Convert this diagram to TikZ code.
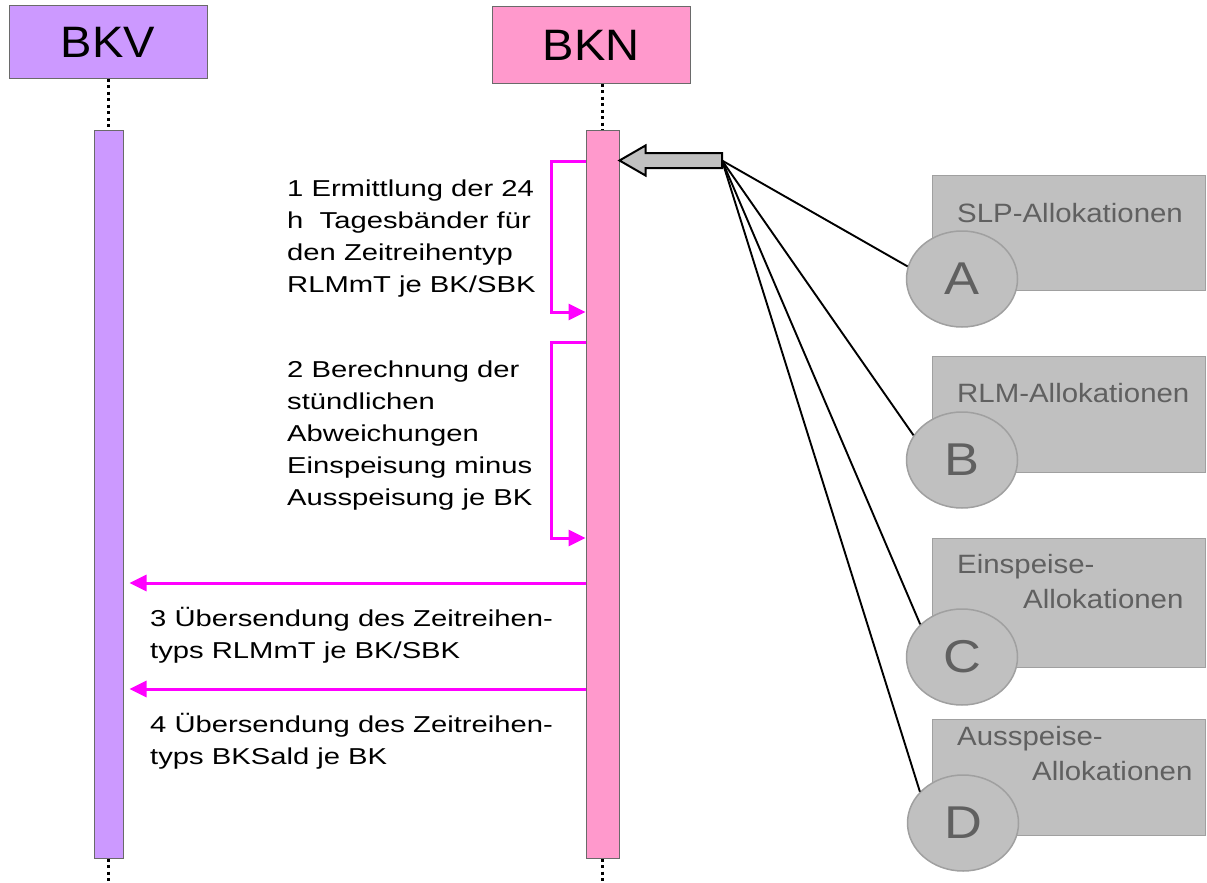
\documentclass[tikz,border=0pt]{standalone}
\usepackage{fontspec}
\setmainfont{Liberation Sans}
\newfontfamily\headfont[FakeStretch=1.07]{Liberation Sans}
\newfontfamily\stepfont[FakeStretch=1.27]{Liberation Sans}
\newfontfamily\allocfont[FakeStretch=1.11]{Liberation Sans}
\newfontfamily\markfont[FakeStretch=1.14]{Liberation Sans}
\usetikzlibrary{arrows.meta,calc,shapes.geometric}

\definecolor{bkvfill}{HTML}{CC99FF}
\definecolor{bknfill}{HTML}{FF99CC}
\definecolor{msgcol}{HTML}{FF00FF}
\definecolor{allocfill}{HTML}{C0C0C0}
\definecolor{allocline}{HTML}{A0A0A0}
\definecolor{alloctext}{HTML}{606060}
\definecolor{framecol}{HTML}{6A6A6A}

\begin{document}
\begin{tikzpicture}[x=1pt,y=-1pt,
  actor/.style={draw=framecol, line width=1pt, minimum width=198pt, inner sep=0pt,
    font=\headfont\fontsize{44}{50}\selectfont},
  bar/.style={draw=framecol, line width=1pt, inner sep=0pt, minimum height=728pt},
  lifeline/.style={line width=3pt, dash pattern=on 3pt off 3.5pt},
  msg/.style={draw=msgcol, line width=3pt, line join=miter,
    -{Triangle[length=17pt,width=16pt]}},
  steptext/.style={inner sep=0pt, anchor=base west,
    font=\stepfont\fontsize{23}{32}\selectfont},
  allocbox/.style={draw=allocline, fill=allocfill, line width=1pt,
    minimum width=273pt, inner sep=0pt},
  alloctxt/.style={inner sep=0pt, anchor=base west, text=alloctext,
    font=\allocfont\fontsize{26.5}{35}\selectfont},
  marker/.style={ellipse, draw=allocline, fill=allocfill, line width=1.5pt,
    minimum width=111pt, minimum height=96pt, inner sep=0pt, text=alloctext,
    font=\markfont\fontsize{46}{50}\selectfont},
  link/.style={line width=1.9pt},
  blockarrow/.style={draw, line width=2pt, fill=allocfill, line join=miter}
]
\useasboundingbox (0,0) rectangle (1207,883);

% actors and activation bars
\node[actor, fill=bkvfill, minimum height=72pt] (bkv) at (108,42) {BKV};
\node[actor, fill=bknfill, minimum height=76pt] (bkn) at (591,45) {BKN};
\path (108.5,494) node[bar, minimum width=29pt] (bkvbar) {}
      (602.5,494) node[bar, minimum width=33pt] (bknbar) {};

% dotted lifelines
\draw[lifeline] (bkv.south -| bkvbar.north) -- (bkvbar.north);
\draw[lifeline] (bkn.south -| bknbar.north) -- (bknbar.north);
\draw[lifeline] (bkvbar.south) -- (bkvbar.south |- 0,883);
\draw[lifeline] (bknbar.south) -- (bknbar.south |- 0,883);

\node[bar, fill=bkvfill, minimum width=29pt] at (bkvbar) {};
\node[bar, fill=bknfill, minimum width=33pt] at (bknbar) {};

% message levels
\coordinate (s1top) at (0,161);
\coordinate (s1bot) at (0,312);
\coordinate (s2top) at (0,342);
\coordinate (s2bot) at (0,538);
\coordinate (m3) at (0,583);
\coordinate (m4) at (0,689);

% self messages on BKN
\draw[msg] (bknbar.west |- s1top) -- ++(-34,0) |- (bknbar.west |- s1bot);
\draw[msg] (bknbar.west |- s2top) -- ++(-34,0) |- (bknbar.west |- s2bot);

% messages BKN -> BKV
\draw[msg] (bknbar.west |- m3) -- ($(bkvbar.east |- m3)+(6,0)$);
\draw[msg] (bknbar.west |- m4) -- ($(bkvbar.east |- m4)+(6,0)$);

% step texts
\node[steptext] (step1) at (287,196) {\begin{tabular}[t]{@{}l@{}}1 Ermittlung der 24\\h\ \ Tagesbänder für\\den Zeitreihentyp\\RLMmT je BK/SBK\end{tabular}};
\node[steptext] (step2) at (287,377) {\begin{tabular}[t]{@{}l@{}}2 Berechnung der\\stündlichen\\Abweichungen\\Einspeisung minus\\Ausspeisung je BK\end{tabular}};
\node[steptext] (step3) at (150,626) {\begin{tabular}[t]{@{}l@{}}3 Übersendung des Zeitreihen-\\typs RLMmT je BK/SBK\end{tabular}};
\node[steptext] (step4) at (150,732) {\begin{tabular}[t]{@{}l@{}}4 Übersendung des Zeitreihen-\\typs BKSald je BK\end{tabular}};

% allocation sources
\node[allocbox, minimum height=115pt] (boxA) at (1068.5,232.5) {};
\node[allocbox, minimum height=116pt] (boxB) at (1068.5,414) {};
\node[allocbox, minimum height=129pt] (boxC) at (1068.5,602.5) {};
\node[allocbox, minimum height=116pt] (boxD) at (1069,777) {};

\node[alloctxt] (lblA) at (957,222) {SLP-Allokationen};
\node[alloctxt] (lblB) at (957,402) {RLM-Allokationen};
\node[alloctxt] (lblC) at (957,573) {\begin{tabular}[t]{@{}l@{}}Einspeise-\\\hspace{66pt}Allokationen\end{tabular}};
\node[alloctxt] (lblD) at (957,745) {\begin{tabular}[t]{@{}l@{}}Ausspeise-\\\hspace{75pt}Allokationen\end{tabular}};

\node[marker] (mA) at (962,279) {A};
\node[marker] (mB) at (962,460) {B};
\node[marker] (mC) at (962,657) {C};
\node[marker] (mD) at (963,823) {D};

% block arrow into BKN and its feeding lines
\coordinate (hub) at (722,160.5);
\coordinate (tip) at (bknbar.east |- hub);
\draw[blockarrow] (tip) -- ($(tip)+(26,-15)$) -- ($(tip)+(26,-7.5)$)
  -- ($(hub)+(0,-7.5)$) -- ($(hub)+(0,7.5)$) -- ($(tip)+(26,7.5)$)
  -- ($(tip)+(26,15)$) -- cycle;

\draw[link] (hub) -- (mA.167);
\draw[link] (hub) -- (mB.153);
\draw[link] (hub) -- (mC.142);
\draw[link] (hub) -- (mD.144);
\end{tikzpicture}
\end{document}
